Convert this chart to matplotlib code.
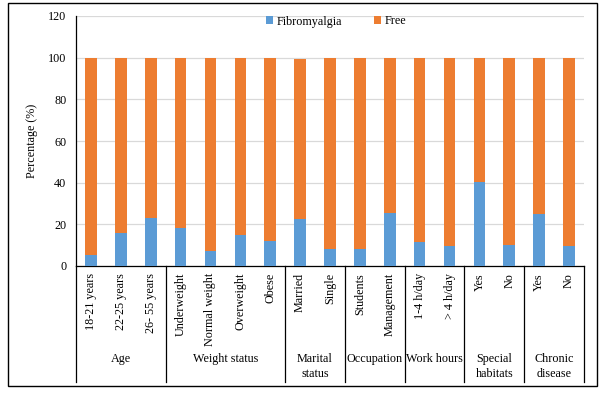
import matplotlib
matplotlib.use("Agg")
import matplotlib.pyplot as plt
from matplotlib.patches import Rectangle
import matplotlib.transforms as mtransforms

categories = ["18-21 years", "22-25 years", "26- 55 years",
              "Underweight", "Normal weight", "Overweight", "Obese",
              "Married", "Single", "Students", "Management",
              "1-4 h/day", "> 4 h/day", "Yes", "No", "Yes", "No"]
fibromyalgia = [5.3, 15.8, 22.9, 18.1, 7.2, 14.9, 12.0, 22.6, 8.2, 8.2, 25.4,
                11.4, 9.4, 40.2, 10.0, 24.8, 9.4]
free = [94.7, 84.2, 77.1, 81.9, 92.8, 85.1, 88.0, 77.0, 91.8, 91.8, 74.6,
        88.6, 90.6, 59.8, 90.0, 75.2, 90.6]
groups = ["Age", "Weight status", "Marital\nstatus", "Occupation", "Work hours",
          "Special\nhabitats", "Chronic\ndisease"]
group_sizes = [3, 4, 2, 2, 2, 2, 2]

FS = 8.7
plt.rcParams['font.family'] = ['Liberation Serif', 'DejaVu Serif']
plt.rcParams['font.size'] = FS

W, H = 605, 393
fig = plt.figure(figsize=(W / 100, H / 100), dpi=100)
left, right, top, bottom = 76, 584, 16, 266
ax = fig.add_axes([left / W, 1 - bottom / H, (right - left) / W, (bottom - top) / H])

x = list(range(len(categories)))
blue = "#5B9BD5"
orange = "#ED7D31"
ax.bar(x, fibromyalgia, width=0.39, color=blue, label="Fibromyalgia", zorder=3)
ax.bar(x, free, width=0.39, bottom=fibromyalgia, color=orange, label="Free", zorder=3)

ax.set_xlim(-0.5, len(categories) - 0.5)
ax.set_ylim(0, 120)
ax.set_yticks(range(0, 121, 20))
ax.yaxis.grid(True, color="#d9d9d9", linewidth=0.9, zorder=0)
ax.set_axisbelow(True)
for s in ["top", "right"]:
    ax.spines[s].set_visible(False)
ax.spines["left"].set_color("black")
ax.spines["bottom"].set_color("black")
ax.spines["left"].set_linewidth(0.9)
ax.spines["bottom"].set_linewidth(0.9)
ax.tick_params(axis="both", length=0, labelsize=FS)
ax.tick_params(axis="y", pad=7)
ax.set_xticks(x)
ax.set_xticklabels(categories, rotation=90, va="top", ha="center")
ax.tick_params(axis="x", pad=5)
ax.set_ylabel("Percentage (%)", fontsize=FS, labelpad=7)

trans = mtransforms.blended_transform_factory(ax.transData, ax.transAxes)
sep_bottom = -(382 - bottom) / (bottom - top)
label_y = -(353 - bottom) / (bottom - top)
pos = -0.5
bounds = [pos]
for g, n in zip(groups, group_sizes):
    center = pos + n / 2
    ax.text(center, label_y, g, transform=trans, ha="center", va="top",
            fontsize=FS, linespacing=1.3)
    pos += n
    bounds.append(pos)
for b in bounds:
    ax.plot([b, b], [0, sep_bottom], transform=trans, color="black",
            linewidth=0.9, clip_on=False)

leg = ax.legend(loc="center", bbox_to_anchor=(0.512, 0.978), ncol=2, frameon=False,
                handlelength=0.6, handleheight=0.6, handletextpad=0.3,
                columnspacing=2.6, fontsize=FS)

fig.patches.append(Rectangle((8 / W, 1 - 386 / H), (597 - 8) / W, (386 - 3) / H,
                             transform=fig.transFigure, fill=False,
                             edgecolor="black", linewidth=1.0))

fig.savefig("out.png", dpi=100)
